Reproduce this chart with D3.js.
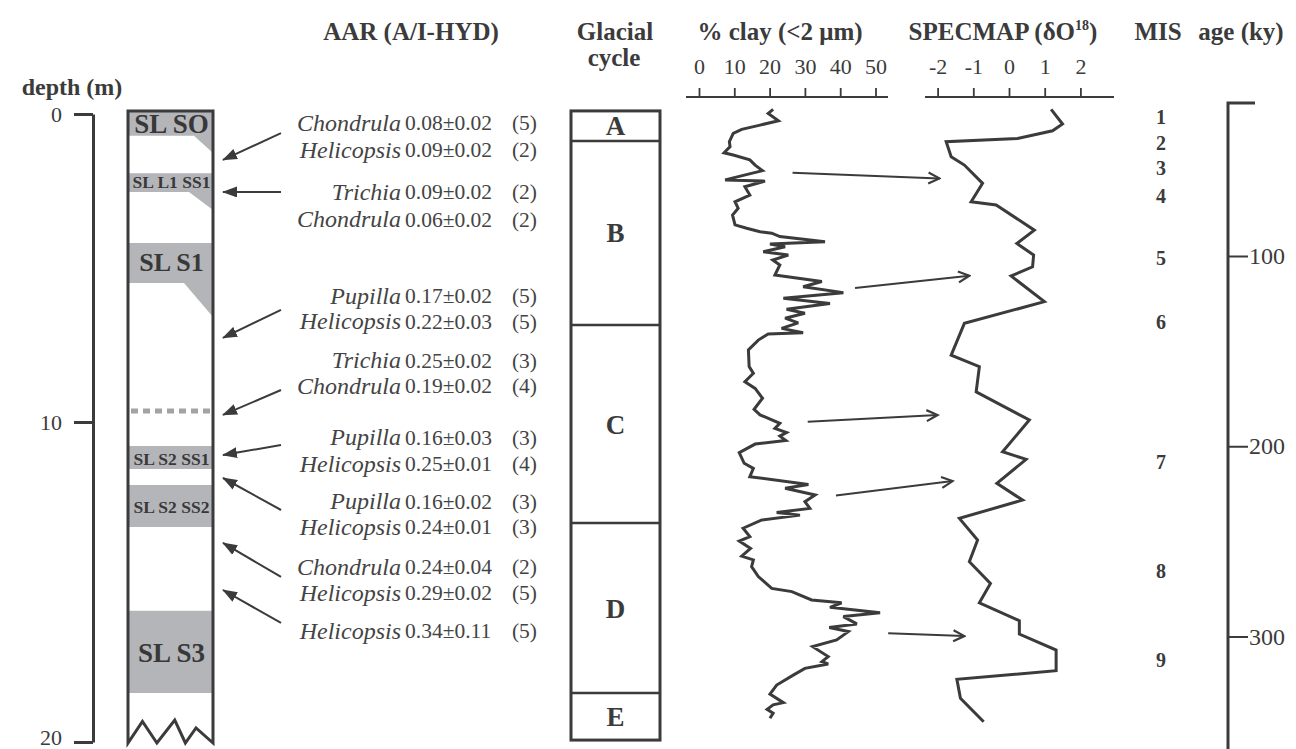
<!DOCTYPE html>
<html><head><meta charset="utf-8">
<script src="https://cdn.jsdelivr.net/npm/d3@7"></script>
<style>
html,body{margin:0;padding:0;background:#fff;}
svg{display:block;font-family:"Liberation Serif","Times New Roman",serif;}
</style>
</head><body>
<svg id="chart" width="1296" height="749"></svg>
<script>
// ---------------- DATA ----------------
const depthTicks = [0, 10, 20];
const clayTicks = [0, 10, 20, 30, 40, 50];
const specmapTicks = [-2, -1, 0, 1, 2];
const ageTicks = [100, 200, 300];

// stratigraphy (depth in m)
const layerNames = ["SL SO", "SL L1 SS1", "SL S1", "SL S2 SS1", "SL S2 SS2", "SL S3"];
const layerTop = [-0.1, 1.92, 4.19, 10.75, 11.97, 15.9];
const layerBottom = [0.71, 2.53, 5.49, 11.47, 13.28, 18.47];
const layerTaper = [1.27, 3.12, 6.59, null, null, null];
const dashedHorizonDepth = 9.64;
const sectionTop = -0.1;
const sectionBase = 20;

// AAR (A/I-HYD) results
const aarSpecies = ["Chondrula","Helicopsis","Trichia","Chondrula","Pupilla","Helicopsis","Trichia","Chondrula","Pupilla","Helicopsis","Pupilla","Helicopsis","Chondrula","Helicopsis","Helicopsis"];
const aarMean = [0.08,0.09,0.09,0.06,0.17,0.22,0.25,0.19,0.16,0.25,0.16,0.24,0.24,0.29,0.34];
const aarSD   = [0.02,0.02,0.02,0.02,0.02,0.03,0.02,0.02,0.03,0.01,0.02,0.01,0.04,0.02,0.11];
const aarN    = [5,2,2,2,5,5,3,4,3,4,3,3,2,5,5];
const aarRowDepth = [0.29,1.14,2.53,3.41,5.88,6.72,7.99,8.83,10.47,11.31,12.47,13.28,14.53,15.34,16.53];

// sample arrows (from label depth to sample depth)
const sampleFromDepth = [0.62, 2.53, 6.36, 8.96, 10.72, 12.75, 14.84, 16.28];
const sampleToDepth   = [1.49, 2.53, 7.27, 9.77, 11.03, 11.75, 13.78, 15.25];

// glacial cycles
const cycleNames = ["A","B","C","D","E"];
const cycleBounds = [-0.1, 0.88, 6.85, 13.16, 18.47, 19.94];

// % clay (<2 µm) vs depth
const clayDepth = [-0.15,-0.02,0.22,0.36,0.50,0.63,0.90,1.06,1.26,1.33,1.49,1.66,1.84,2.14,2.18,2.36,2.63,2.85,3.06,3.28,3.60,3.71,3.82,3.87,3.98,4.15,4.22,4.31,4.47,4.58,4.74,4.90,5.23,5.44,5.61,5.80,5.98,6.15,6.34,6.47,6.63,6.78,6.96,
  7.10,7.14,7.34,7.66,8.20,8.42,8.69,8.91,9.23,9.59,9.77,10.04,10.20,10.33,10.44,10.58,10.69,10.96,11.29,11.45,11.71,11.95,12.07,12.28,12.49,12.70,12.83,12.91,13.06,
  13.32,13.58,13.72,13.95,14.19,14.31,14.52,14.83,15.20,15.30,15.56,15.65,15.79,15.96,16.08,16.31,16.42,16.55,16.81,17.02,17.33,17.49,17.56,17.70,17.91,18.22,18.50,18.77,18.84,18.98,19.10,19.26];
const clayPct = [21.0,19.6,22.5,17.3,12.1,9.7,8.6,8.8,7.1,9.7,14.4,15.9,18.0,7.4,18.7,13.0,14.4,10.2,11.1,9.5,10.2,13.5,17.3,20.6,22.9,35.7,20.1,24.4,18.2,25.3,20.9,22.9,21.5,34.8,29.5,40.9,23.9,37.1,24.8,30.0,24.4,28.1,23.4,
  29.5,19.6,16.8,14.0,14.2,15.4,13.0,15.9,18.0,15.6,17.3,22.9,21.5,24.8,22.9,24.6,15.9,11.4,12.8,15.4,14.4,31.0,24.4,32.9,30.0,31.4,22.0,28.6,17.8,
  12.5,14.4,11.4,14.6,12.1,15.4,14.9,16.8,20.6,26.3,31.9,40.4,37.1,51.3,40.9,44.7,36.9,42.3,39.0,32.2,36.6,34.8,36.6,30.0,26.7,22.0,20.1,23.9,21.0,19.3,21.0,20.1];

// SPECMAP delta O18 vs age (ky)
const specAge = [22.9,30.6,34.2,38.2,39.9,47.8,52.2,61.8,71.5,73.2,86.4,93.4,99.5,105.7,110.5,124.0,135.4,152.1,158.2,171.4,186.2,202.9,206.9,219.5,228.3,237.9,249.3,260.7,272.1,282.3,291.7,298.7,307.1,318.0,322.5,332.5,344.8];
const specValue = [1.18,1.50,1.22,0.24,-1.76,-1.62,-1.25,-0.74,-1.06,-0.36,0.71,0.22,0.69,0.66,0.06,0.99,-1.25,-1.62,-0.83,-0.92,0.57,-0.18,0.48,-0.34,0.38,-1.39,-0.88,-1.11,-0.52,-0.83,0.29,0.29,1.32,1.32,-1.46,-1.36,-0.71];

// Marine isotope stages
const misLabels = ["1","2","3","4","5","6","7","8","9"];
const misAge = [27, 40.5, 53.5, 68.5, 101, 134.7, 208.3, 265.6, 312.4];

// correlation arrows clay peak -> SPECMAP
const corrClayDepth = [1.91, 5.65, 9.99, 12.30, 16.6];
const corrClayPct = [26.5, 44.2, 30.8, 38.8, 53.6];
const corrAge = [59.2, 110.4, 183.6, 218.3, 299.8];
const corrSpec = [-1.95, -1.11, -2.0, -1.58, -1.25];

// ---------------- DRAWING ----------------
const ink = "#3b3b3b";
const serif = "Liberation Serif, Times New Roman, serif";
const svg = d3.select("#chart");

const depth = d3.scaleLinear().domain([0, 10, 20]).range([114, 422, 742]);
const clay = d3.scaleLinear().domain([0, 50]).range([699, 875.5]);
const spec = d3.scaleLinear().domain([-2, 2]).range([937.6, 1080.4]);
const age = d3.scaleLinear().domain([100, 300]).range([256, 636.5]);

const defs = svg.append("defs");
defs.append("marker").attr("id","solidHead").attr("markerUnits","userSpaceOnUse")
  .attr("viewBox","0 0 15 11").attr("markerWidth",15).attr("markerHeight",11)
  .attr("refX",14).attr("refY",5.5).attr("orient","auto")
  .append("path").attr("d","M0,0 L15,5.5 L0,11 Z").attr("fill",ink);
defs.append("marker").attr("id","openHead").attr("markerUnits","userSpaceOnUse")
  .attr("viewBox","0 0 14 14").attr("markerWidth",14).attr("markerHeight",14)
  .attr("refX",12).attr("refY",7).attr("orient","auto")
  .append("path").attr("d","M1,1.5 L12,7 L1,12.5").attr("fill","none").attr("stroke",ink).attr("stroke-width",2.2);

// headers
const headerFont = 25;
function header(x, y, txt, size) {
  return svg.append("text").attr("x", x).attr("y", y).attr("text-anchor","middle")
    .attr("font-weight","bold").attr("font-size", size || headerFont).attr("fill", ink).text(txt);
}
header(72, 95, "depth (m)", 24);
header(411, 40, "AAR (A/I-HYD)");
header(615, 40, "Glacial");
header(614, 66, "cycle");
header(780, 40, "% clay (<2 \u03bcm)");
const sh = svg.append("text").attr("x",1003).attr("y",40).attr("text-anchor","middle")
  .attr("font-weight","bold").attr("font-size",headerFont).attr("fill",ink);
sh.append("tspan").text("SPECMAP (\u03b4O");
sh.append("tspan").attr("font-size",14).attr("dy",-10).text("18");
sh.append("tspan").attr("dy",10).text(")");
header(1158, 40, "MIS");
header(1241, 40, "age (ky)");

// depth axis
const gDepth = svg.append("g").attr("transform","translate(93,0)")
  .call(d3.axisLeft(depth).tickValues(depthTicks).tickSize(19).tickPadding(12).tickSizeOuter(0));
gDepth.select(".domain").attr("stroke",ink).attr("stroke-width",3);
gDepth.selectAll(".tick line").attr("stroke",ink).attr("stroke-width",3);
gDepth.selectAll(".tick text").attr("font-family",serif).attr("font-size",22).attr("fill",ink)
  .attr("dy", d => d === 20 ? "0.1em" : "0.32em");

// stratigraphic column
const colX0 = 128, colX1 = 213;
const taperInset = [19, 24, 29];
const gCol = svg.append("g");
layerNames.forEach((name, i) => {
  const yt = depth(layerTop[i]), yb = depth(layerBottom[i]);
  let pts;
  if (layerTaper[i] != null) {
    pts = [[colX0, yt],[colX1, yt],[colX1, depth(layerTaper[i])],[colX1 - taperInset[i], yb],[colX0, yb]];
  } else {
    pts = [[colX0, yt],[colX1, yt],[colX1, yb],[colX0, yb]];
  }
  gCol.append("path").attr("d", d3.line()(pts) + "Z").attr("fill","#b4b5b9");
});
gCol.append("line").attr("x1", colX0 + 3).attr("x2", colX1 - 2)
  .attr("y1", depth(dashedHorizonDepth)).attr("y2", depth(dashedHorizonDepth))
  .attr("stroke","#a3a3a6").attr("stroke-width",5).attr("stroke-dasharray","7,5");
// labels in the column
const layerFont = [27, 17.5, 26, 17.5, 17.5, 27];
const layerLabelY = [124, 182, 262, 459, 507, 653].map(y => depth.invert(y));
layerNames.forEach((name, i) => {
  gCol.append("text").attr("x", (colX0 + colX1) / 2 + 1).attr("y", depth(layerLabelY[i]))
    .attr("dy","0.35em").attr("text-anchor","middle").attr("font-weight","bold")
    .attr("font-size", layerFont[i]).attr("fill", "#383838").text(name);
});
// outline with broken base
const yBase = depth(sectionBase) + 1;
const w = colX1 - colX0;
const zig = [[1,0],[0.8,-15],[0.675,0],[0.55,-23],[0.34,0],[0.17,-21.5],[0,0]];
const outline = [[colX0, depth(sectionTop)],[colX1, depth(sectionTop)]]
  .concat(zig.map(([f, dy]) => [colX0 + f * w, yBase + dy]));
gCol.append("path").attr("d", d3.line()(outline) + "Z").attr("fill","none")
  .attr("stroke", ink).attr("stroke-width", 3).attr("stroke-linejoin","miter");

// sample arrows
sampleFromDepth.forEach((d, i) => {
  svg.append("line").attr("x1", 281).attr("y1", depth(d)).attr("x2", 223).attr("y2", depth(sampleToDepth[i]))
    .attr("stroke", ink).attr("stroke-width", 2).attr("marker-end","url(#solidHead)");
});

// AAR labels
const fmt = d3.format(".2f");
aarSpecies.forEach((sp, i) => {
  const y = depth(aarRowDepth[i]);
  svg.append("text").attr("x", 401).attr("y", y).attr("dy","0.35em").attr("text-anchor","end")
    .attr("font-style","italic").attr("font-size",24).attr("fill","#444").text(sp);
  svg.append("text").attr("x", 405).attr("y", y).attr("dy","0.35em").attr("text-anchor","start")
    .attr("font-size",21.5).attr("fill","#444").text(fmt(aarMean[i]) + "\u00b1" + fmt(aarSD[i]));
  svg.append("text").attr("x", 537).attr("y", y).attr("dy","0.35em").attr("text-anchor","end")
    .attr("font-size",21.5).attr("fill","#444").text("(" + aarN[i] + ")");
});

// glacial cycle box
const gx0 = 571, gx1 = 660;
const gGl = svg.append("g");
cycleNames.forEach((c, i) => {
  const y0 = depth(cycleBounds[i]), y1 = depth(cycleBounds[i + 1]);
  gGl.append("text").attr("x", (gx0 + gx1) / 2).attr("y", (y0 + y1) / 2).attr("dy","0.35em")
    .attr("text-anchor","middle").attr("font-weight","bold").attr("font-size",27).attr("fill",ink).text(c);
});
cycleBounds.slice(1, -1).forEach(b => {
  gGl.append("line").attr("x1", gx0).attr("x2", gx1).attr("y1", depth(b)).attr("y2", depth(b))
    .attr("stroke", ink).attr("stroke-width", 2.5);
});
gGl.append("rect").attr("x", gx0).attr("y", depth(cycleBounds[0]))
  .attr("width", gx1 - gx0).attr("height", depth(cycleBounds[5]) - depth(cycleBounds[0]))
  .attr("fill","none").attr("stroke", ink).attr("stroke-width", 3);

// top axes (clay and SPECMAP)
function topAxis(scale, ticks, x0, x1) {
  const g = svg.append("g").attr("transform","translate(0,97)")
    .call(d3.axisTop(scale).tickValues(ticks).tickSize(9).tickPadding(14).tickSizeOuter(0)
      .tickFormat(d => (d < 0 ? "-" : "") + Math.abs(d)));
  g.select(".domain").remove();
  g.selectAll(".tick line").attr("stroke", ink).attr("stroke-width", 1.8);
  g.selectAll(".tick text").attr("font-family",serif).attr("font-size",22).attr("fill",ink);
  g.append("line").attr("x1", x0).attr("x2", x1).attr("y1", 0).attr("y2", 0).attr("stroke", ink).attr("stroke-width", 2.2);
}
topAxis(clay, clayTicks, 686, 888);
topAxis(spec, specmapTicks, 925, 1114);

// clay curve
const clayPts = clayDepth.map((d, i) => [clay(clayPct[i]), depth(d)]);
svg.append("path").attr("d", d3.line()(clayPts)).attr("fill","none")
  .attr("stroke", ink).attr("stroke-width", 3).attr("stroke-linejoin","miter").attr("stroke-miterlimit",3);

// SPECMAP curve
const specPts = specAge.map((a, i) => [spec(specValue[i]), age(a)]);
svg.append("path").attr("d", d3.line()(specPts)).attr("fill","none")
  .attr("stroke", ink).attr("stroke-width", 3).attr("stroke-linejoin","miter");

// correlation arrows
corrClayDepth.forEach((d, i) => {
  svg.append("line").attr("x1", clay(corrClayPct[i])).attr("y1", depth(d))
    .attr("x2", spec(corrSpec[i])).attr("y2", age(corrAge[i]))
    .attr("stroke", ink).attr("stroke-width", 2).attr("marker-end","url(#openHead)");
});

// MIS labels
misLabels.forEach((m, i) => {
  svg.append("text").attr("x", 1161).attr("y", age(misAge[i])).attr("dy","0.35em")
    .attr("text-anchor","middle").attr("font-weight","bold").attr("font-size",20).attr("fill",ink).text(m);
});

// age axis
const gAge = svg.append("g").attr("transform","translate(1228,0)")
  .call(d3.axisRight(age).tickValues(ageTicks).tickSize(20).tickPadding(1).tickSizeOuter(0));
gAge.select(".domain").remove();
gAge.selectAll(".tick line").attr("stroke", ink).attr("stroke-width", 2);
gAge.selectAll(".tick text").attr("font-family",serif).attr("font-size",24).attr("fill",ink);
gAge.append("path").attr("d","M27,103 H0 V749").attr("fill","none").attr("stroke",ink).attr("stroke-width",3);
</script>
</body></html>
